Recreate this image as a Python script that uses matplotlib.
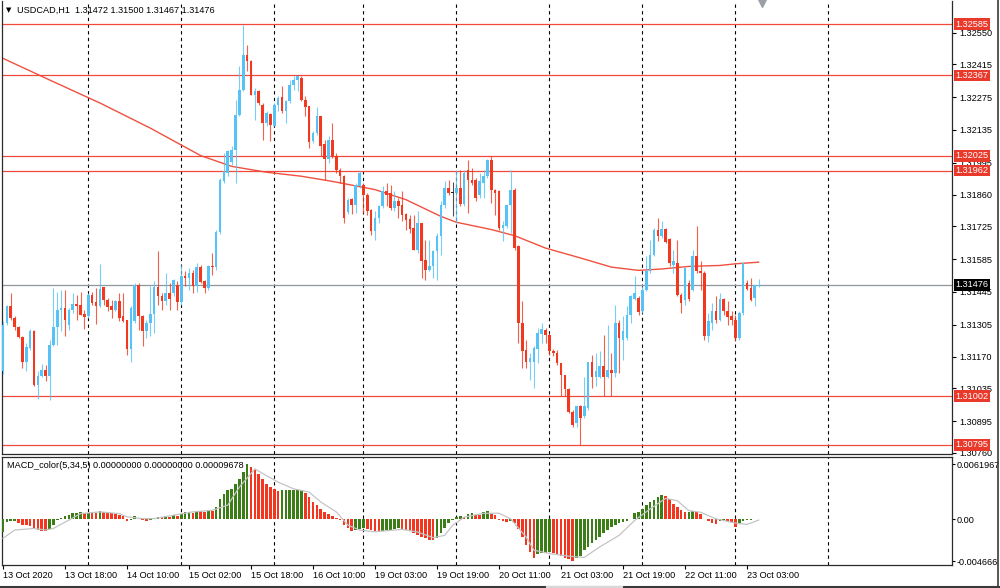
import matplotlib
matplotlib.use("Agg")
import matplotlib.pyplot as plt
from matplotlib.lines import Line2D

plt.rcParams['font.family'] = ['Liberation Sans', 'DejaVu Sans']
plt.rcParams['font.size'] = 6.6

# --- data (H1 bars, 13 Oct 02:00 .. 23 Oct 06:00) ---
opens = [
    1.31107, 1.31313, 1.31384, 1.31334, 1.31298, 1.31253, 1.31145, 1.31206, 1.31277, 1.31050,
    1.31088, 1.31114, 1.31088, 1.31220, 1.31298, 1.31369, 1.31376, 1.31306, 1.31369, 1.31395,
    1.31391, 1.31352, 1.31341, 1.31433, 1.31401, 1.31384, 1.31466, 1.31412, 1.31384, 1.31369,
    1.31405, 1.31341, 1.31324, 1.31202, 1.31320, 1.31476, 1.31341, 1.31280, 1.31315, 1.31352,
    1.31466, 1.31429, 1.31405, 1.31440, 1.31440, 1.31476, 1.31401, 1.31514, 1.31504, 1.31526,
    1.31469, 1.31551, 1.31490, 1.31462, 1.31554, 1.31551, 1.31700, 1.31916, 1.31952, 1.32000,
    1.32051, 1.32200, 1.32307, 1.32456, 1.32428, 1.32286, 1.32300, 1.32243, 1.32165, 1.32203,
    1.32154, 1.32243, 1.32276, 1.32215, 1.32257, 1.32328, 1.32349, 1.32356, 1.32264, 1.32236,
    1.32087, 1.32122, 1.32193, 1.32077, 1.32011, 1.32091, 1.32023, 1.31966, 1.31938, 1.31784,
    1.31841, 1.31817, 1.31895, 1.31902, 1.31860, 1.31796, 1.31704, 1.31760, 1.31810, 1.31874,
    1.31867, 1.31803, 1.31831, 1.31817, 1.31779, 1.31756, 1.31718, 1.31625, 1.31739, 1.31583,
    1.31537, 1.31557, 1.31618, 1.31682, 1.31817, 1.31888, 1.31867, 1.31867, 1.31888, 1.31820,
    1.31966, 1.31924, 1.31924, 1.31860, 1.31910, 1.31937, 1.32008, 1.31881, 1.31873, 1.31717,
    1.31727, 1.31817, 1.31881, 1.31642, 1.31313, 1.31199, 1.31149, 1.31149, 1.31202, 1.31267,
    1.31284, 1.31263, 1.31192, 1.31185, 1.31142, 1.31093, 1.31031, 1.30936, 1.30887, 1.30960,
    1.30915, 1.30950, 1.31149, 1.31085, 1.31085, 1.31128, 1.31085, 1.31114, 1.31100, 1.31313,
    1.31242, 1.31249, 1.31348, 1.31415, 1.31419, 1.31362, 1.31455, 1.31533, 1.31604, 1.31710,
    1.31682, 1.31713, 1.31670, 1.31561, 1.31568, 1.31433, 1.31412, 1.31483, 1.31455, 1.31600,
    1.31536, 1.31528, 1.31256, 1.31315, 1.31365, 1.31327, 1.31415, 1.31362, 1.31341, 1.31324,
    1.31249, 1.31355, 1.31483, 1.31462, 1.31419, 1.31472,
]
highs = [
    1.31320, 1.31390, 1.31440, 1.31341, 1.31302, 1.31259, 1.31227, 1.31288, 1.31284, 1.31107,
    1.31138, 1.31135, 1.31242, 1.31462, 1.31447, 1.31455, 1.31452, 1.31376, 1.31440, 1.31433,
    1.31447, 1.31369, 1.31440, 1.31447, 1.31462, 1.31565, 1.31466, 1.31419, 1.31412, 1.31412,
    1.31440, 1.31440, 1.31326, 1.31384, 1.31483, 1.31483, 1.31348, 1.31327, 1.31469, 1.31490,
    1.31618, 1.31440, 1.31526, 1.31483, 1.31500, 1.31490, 1.31561, 1.31533, 1.31547, 1.31540,
    1.31568, 1.31561, 1.31497, 1.31561, 1.31611, 1.31710, 1.31930, 1.32037, 1.32051, 1.32065,
    1.32264, 1.32406, 1.32581, 1.32498, 1.32435, 1.32314, 1.32307, 1.32250, 1.32214, 1.32207,
    1.32250, 1.32278, 1.32321, 1.32264, 1.32349, 1.32364, 1.32366, 1.32364, 1.32278, 1.32239,
    1.32129, 1.32233, 1.32196, 1.32094, 1.32108, 1.32165, 1.32037, 1.31973, 1.31945, 1.31846,
    1.31846, 1.31909, 1.31959, 1.31909, 1.31867, 1.31799, 1.31789, 1.31817, 1.31895, 1.31909,
    1.31902, 1.31874, 1.31846, 1.31874, 1.31782, 1.31775, 1.31775, 1.31789, 1.31739, 1.31668,
    1.31668, 1.31625, 1.31696, 1.31831, 1.31917, 1.31924, 1.31912, 1.31966, 1.31966, 1.31966,
    1.32009, 1.31973, 1.31931, 1.31952, 1.31966, 1.32011, 1.32023, 1.31883, 1.31881, 1.31746,
    1.31817, 1.31966, 1.31888, 1.31646, 1.31405, 1.31242, 1.31185, 1.31213, 1.31291, 1.31313,
    1.31291, 1.31270, 1.31202, 1.31199, 1.31142, 1.31093, 1.31036, 1.30943, 1.30965, 1.30965,
    1.31085, 1.31149, 1.31178, 1.31185, 1.31192, 1.31263, 1.31306, 1.31185, 1.31391, 1.31327,
    1.31341, 1.31384, 1.31433, 1.31511, 1.31426, 1.31469, 1.31597, 1.31668, 1.31717, 1.31760,
    1.31746, 1.31717, 1.31675, 1.31625, 1.31668, 1.31440, 1.31547, 1.31497, 1.31625, 1.31724,
    1.31575, 1.31533, 1.31355, 1.31398, 1.31426, 1.31440, 1.31419, 1.31405, 1.31362, 1.31348,
    1.31362, 1.31568, 1.31497, 1.31504, 1.31476, 1.31500,
]
lows = [
    1.31095, 1.31305, 1.31327, 1.31284, 1.31248, 1.31121, 1.31107, 1.31199, 1.31046, 1.30989,
    1.31085, 1.31064, 1.30983, 1.31213, 1.31220, 1.31277, 1.31259, 1.31284, 1.31355, 1.31327,
    1.31348, 1.31287, 1.31334, 1.31391, 1.31310, 1.31381, 1.31391, 1.31362, 1.31334, 1.31362,
    1.31320, 1.31318, 1.31178, 1.31149, 1.31315, 1.31284, 1.31213, 1.31249, 1.31256, 1.31270,
    1.31391, 1.31369, 1.31391, 1.31369, 1.31426, 1.31369, 1.31391, 1.31469, 1.31455, 1.31440,
    1.31447, 1.31483, 1.31440, 1.31455, 1.31518, 1.31540, 1.31690, 1.31909, 1.31938, 1.31985,
    1.31909, 1.32193, 1.32300, 1.32385, 1.32286, 1.32179, 1.32243, 1.32094, 1.32151, 1.32087,
    1.32151, 1.32215, 1.32207, 1.32165, 1.32250, 1.32307, 1.32300, 1.32257, 1.32193, 1.32058,
    1.32080, 1.32115, 1.32023, 1.31923, 1.31994, 1.32016, 1.31952, 1.31909, 1.31740, 1.31779,
    1.31779, 1.31782, 1.31888, 1.31782, 1.31775, 1.31689, 1.31668, 1.31739, 1.31803, 1.31810,
    1.31796, 1.31789, 1.31760, 1.31746, 1.31711, 1.31696, 1.31625, 1.31611, 1.31505, 1.31498,
    1.31533, 1.31505, 1.31498, 1.31604, 1.31803, 1.31860, 1.31767, 1.31739, 1.31810, 1.31810,
    1.31782, 1.31902, 1.31831, 1.31846, 1.31845, 1.31930, 1.31824, 1.31774, 1.31710, 1.31661,
    1.31717, 1.31696, 1.31625, 1.31227, 1.31121, 1.31121, 1.31071, 1.31036, 1.31142, 1.31227,
    1.31227, 1.31178, 1.31171, 1.31135, 1.31000, 1.31000, 1.30929, 1.30872, 1.30872, 1.30795,
    1.30908, 1.30943, 1.31036, 1.31043, 1.31078, 1.31000, 1.31078, 1.31000, 1.31085, 1.31100,
    1.31156, 1.31242, 1.31313, 1.31412, 1.31348, 1.31355, 1.31448, 1.31526, 1.31597, 1.31661,
    1.31675, 1.31653, 1.31554, 1.31528, 1.31426, 1.31355, 1.31391, 1.31405, 1.31448, 1.31526,
    1.31455, 1.31242, 1.31230, 1.31284, 1.31313, 1.31320, 1.31348, 1.31306, 1.31306, 1.31235,
    1.31242, 1.31348, 1.31455, 1.31405, 1.31384, 1.31467,
]
closes = [
    1.31306, 1.31384, 1.31334, 1.31298, 1.31253, 1.31145, 1.31209, 1.31277, 1.31050, 1.31088,
    1.31114, 1.31088, 1.31220, 1.31298, 1.31369, 1.31376, 1.31327, 1.31369, 1.31395, 1.31384,
    1.31348, 1.31338, 1.31433, 1.31398, 1.31384, 1.31457, 1.31409, 1.31381, 1.31369, 1.31405,
    1.31334, 1.31320, 1.31202, 1.31376, 1.31476, 1.31341, 1.31280, 1.31315, 1.31352, 1.31466,
    1.31429, 1.31405, 1.31440, 1.31415, 1.31494, 1.31401, 1.31514, 1.31504, 1.31526, 1.31469,
    1.31551, 1.31486, 1.31462, 1.31554, 1.31551, 1.31700, 1.31923, 1.31959, 1.32044, 1.32051,
    1.32200, 1.32307, 1.32456, 1.32428, 1.32286, 1.32300, 1.32250, 1.32165, 1.32207, 1.32158,
    1.32243, 1.32271, 1.32215, 1.32257, 1.32328, 1.32349, 1.32364, 1.32264, 1.32233, 1.32082,
    1.32122, 1.32193, 1.32065, 1.32011, 1.32094, 1.32023, 1.31966, 1.31938, 1.31760, 1.31838,
    1.31817, 1.31902, 1.31952, 1.31860, 1.31789, 1.31704, 1.31760, 1.31810, 1.31874, 1.31860,
    1.31803, 1.31831, 1.31813, 1.31775, 1.31753, 1.31713, 1.31625, 1.31739, 1.31576, 1.31537,
    1.31557, 1.31618, 1.31682, 1.31817, 1.31888, 1.31867, 1.31867, 1.31888, 1.31820, 1.31952,
    1.31924, 1.31910, 1.31846, 1.31916, 1.31937, 1.32008, 1.31881, 1.31866, 1.31717, 1.31731,
    1.31817, 1.31881, 1.31632, 1.31313, 1.31192, 1.31149, 1.31164, 1.31206, 1.31270, 1.31287,
    1.31263, 1.31192, 1.31185, 1.31142, 1.31093, 1.31031, 1.30936, 1.30880, 1.30958, 1.30908,
    1.30958, 1.31149, 1.31085, 1.31107, 1.31128, 1.31085, 1.31114, 1.31100, 1.31313, 1.31249,
    1.31280, 1.31348, 1.31426, 1.31440, 1.31358, 1.31455, 1.31533, 1.31604, 1.31710, 1.31682,
    1.31713, 1.31656, 1.31568, 1.31575, 1.31433, 1.31398, 1.31547, 1.31416, 1.31597, 1.31533,
    1.31528, 1.31256, 1.31320, 1.31365, 1.31327, 1.31415, 1.31365, 1.31338, 1.31324, 1.31249,
    1.31355, 1.31568, 1.31457, 1.31412, 1.31476, 1.31476,
]

# moving average (bar index, price)
ma_bars = [0, 12, 25, 38, 51, 59, 68, 77, 85, 96, 104, 113, 117, 126, 132, 140, 149, 157, 164, 170, 177, 185, 189, 195]
ma_vals = [1.32440, 1.32348, 1.32250, 1.32143, 1.32026, 1.31980, 1.31955, 1.31938, 1.31916, 1.31881,
           1.31838, 1.31767, 1.31742, 1.31711, 1.31685, 1.31632, 1.31590, 1.31551, 1.31537, 1.31543,
           1.31554, 1.31558, 1.31565, 1.31572]

# MACD_color(5,34,5) histogram, one value per bar
macd_hist = [
    -0.00137, -0.00030, -0.00022, -0.00020, -0.00037, -0.00063, -0.00065, -0.00070, -0.00100, -0.00118,
    -0.00125, -0.00130, -0.00110, -0.00060, -0.00010, 0.00020, 0.00040, 0.00055, 0.00070, 0.00075,
    0.00080, 0.00072, 0.00078, 0.00072, 0.00070, 0.00090, 0.00085, 0.00075, 0.00068, 0.00065,
    0.00050, 0.00035, -0.00020, -0.00010, 0.00035, 0.00010, -0.00010, -0.00012, -0.00005, 0.00020,
    0.00030, 0.00028, 0.00035, 0.00032, 0.00045, 0.00040, 0.00065, 0.00080, 0.00085, 0.00078,
    0.00095, 0.00092, 0.00085, 0.00100, 0.00098, 0.00140, 0.00232, 0.00290, 0.00325, 0.00345,
    0.00400, 0.00454, 0.00530, 0.00620, 0.00590, 0.00565, 0.00510, 0.00455, 0.00400, 0.00360,
    0.00340, 0.00322, 0.00324, 0.00325, 0.00326, 0.00327, 0.00328, 0.00330, 0.00300, 0.00250,
    0.00195, 0.00160, 0.00120, 0.00085, 0.00060, 0.00040, 0.00020, -0.00005, -0.00060, -0.00100,
    -0.00130, -0.00120, -0.00110, -0.00100, -0.00110, -0.00120, -0.00130, -0.00135, -0.00128, -0.00120,
    -0.00115, -0.00110, -0.00100, -0.00103, -0.00115, -0.00130, -0.00150, -0.00170, -0.00190, -0.00210,
    -0.00225, -0.00232, -0.00210, -0.00155, -0.00100, -0.00044, -0.00007, 0.00030, 0.00037, 0.00030,
    0.00066, 0.00074, 0.00048, 0.00046, 0.00085, 0.00096, 0.00066, 0.00048, -0.00007, -0.00020,
    -0.00026, -0.00020, -0.00040, -0.00110, -0.00200, -0.00290, -0.00360, -0.00430, -0.00380, -0.00375,
    -0.00370, -0.00365, -0.00375, -0.00390, -0.00410, -0.00425, -0.00445, -0.00467, -0.00432, -0.00413,
    -0.00340, -0.00303, -0.00266, -0.00229, -0.00192, -0.00155, -0.00118, -0.00081, -0.00063, -0.00040,
    -0.00025, -0.00012, 0.00010, 0.00074, 0.00085, 0.00122, 0.00159, 0.00196, 0.00221, 0.00251,
    0.00269, 0.00262, 0.00232, 0.00177, 0.00140, 0.00103, 0.00085, 0.00087, 0.00090, 0.00088,
    0.00066, 0.00010, -0.00015, -0.00037, -0.00052, -0.00015, -0.00010, -0.00018, -0.00026, -0.00081,
    -0.00052, -0.00015, -0.00007, -0.00003, 0.00005, 0.00010,
]
signal_bars = [0, 3, 8, 11, 13, 17, 20, 25, 30, 32, 36, 39, 44, 49, 54, 58, 61, 65, 68, 71, 75, 79,
               82, 86, 89, 92, 96, 103, 107, 111, 114, 116, 119, 124, 128, 131, 135, 137, 141, 146,
               150, 154, 159, 163, 167, 171, 174, 177, 180, 184, 189, 192, 195]
signal_vals = [-0.00210, -0.00118, -0.00100, -0.00118, -0.00100, -0.00007, 0.00066, 0.00085, 0.00066,
               0.00030, 0.00010, 0.00010, 0.00048, 0.00085, 0.00103, 0.00160, 0.00362, 0.00565, 0.00490,
               0.00417, 0.00343, 0.00306, 0.00196, 0.00085, -0.00063, -0.00118, -0.00137, -0.00110,
               -0.00140, -0.00203, -0.00177, -0.00066, 0.00026, 0.00070, 0.00070, 0.00007, -0.00196,
               -0.00343, -0.00380, -0.00410, -0.00424, -0.00306, -0.00177, -0.00011, 0.00118, 0.00236,
               0.00210, 0.00099, 0.00081, 0.00007, -0.00040, -0.00055, -0.00007]

levels = [1.32585, 1.32367, 1.32025, 1.31962, 1.31002, 1.30795]
last_price = 1.31476
price_ticks = [1.32550, 1.32415, 1.32275, 1.32135, 1.31995, 1.31860, 1.31725,
               1.31585, 1.31445, 1.31305, 1.31170, 1.31035, 1.30895, 1.30760]
macd_ticks = [0.0061967, 0.0, -0.004666]
macd_tick_labels = ["0.0061967", "0.00", "-0.004666"]
day_start_bars = [22, 46, 70, 93, 117, 141, 165, 189, 213]
time_tick_bars = [0, 16, 32, 48, 64, 80, 96, 112, 128, 144, 160, 176, 192]
time_tick_labels = ["13 Oct 2020", "13 Oct 18:00", "14 Oct 10:00", "15 Oct 02:00", "15 Oct 18:00",
                    "16 Oct 10:00", "19 Oct 03:00", "19 Oct 19:00", "20 Oct 11:00", "21 Oct 03:00",
                    "21 Oct 19:00", "22 Oct 11:00", "23 Oct 03:00"]

BULL = "#56c2f6"
BEAR = "#f2381f"
LEVEL = "#f04a3c"
MA_COLOR = "#f0503f"
HIST_UP = "#3b7d17"
HIST_DN = "#f2361f"
SIGNAL = "#c4c4c4"

W, H = 1000, 588
fig = plt.figure(figsize=(10, 5.88), dpi=100)
fig.patch.set_facecolor("white")


def px_box(left, top, right, bottom):
    return [left / W, 1 - bottom / H, (right - left) / W, (bottom - top) / H]


ax = fig.add_axes(px_box(2, 1, 952, 454))
ax2 = fig.add_axes(px_box(2, 457, 952, 565))

# bar i sits at pixel 3 + 3.875*i
xlim = ((2 - 3) / 3.875, (952 - 3) / 3.875)
for a in (ax, ax2):
    a.set_xlim(*xlim)
    for sp in a.spines.values():
        sp.set_color("#2b2b2b")
        sp.set_linewidth(0.9)
ax.spines["top"].set_visible(False)

ax.set_ylim(1.307551, 1.326842)
ax2.set_ylim(-0.005084, 0.006983)

# period separators
for d in day_start_bars:
    for a in (ax, ax2):
        a.axvline(d, color="black", lw=0.8, ls=(0, (3, 3)), zorder=1)

# candles
idx = list(range(len(opens)))
colors = []
for o, c in zip(opens, closes):
    if c > o:
        colors.append(BULL)
    elif c < o:
        colors.append(BEAR)
    else:
        colors.append("#222222")
ax.vlines(idx, lows, highs, colors=colors, lw=0.8, alpha=0.8, zorder=3)
bottoms = [min(o, c) for o, c in zip(opens, closes)]
heights = [max(abs(c - o), 0.000025) for o, c in zip(opens, closes)]
ax.bar(idx, heights, bottom=bottoms, width=0.7, color=colors, linewidth=0, zorder=4)

# moving average
ax.plot(ma_bars, ma_vals, color=MA_COLOR, lw=1.0, zorder=2)

# levels
for lv in levels:
    ax.axhline(lv, color=LEVEL, lw=0.9, zorder=2)
ax.axhline(last_price, color="#8f969c", lw=0.9, zorder=2)

# right price axis
ax.yaxis.tick_right()
ax.set_yticks(price_ticks)
ax.set_yticklabels([f"{t:.5f}" for t in price_ticks])
ax.tick_params(axis="y", length=3, pad=2, labelsize=6.6, colors="black")
ax.set_xticks([])

for lv in levels:
    ax.text(1.0035, lv, f"{lv:.5f}", transform=ax.get_yaxis_transform(), ha="left", va="center",
            color="white", fontsize=6.6, clip_on=False, zorder=6,
            bbox=dict(boxstyle="square,pad=0.15", fc="#e8392a", ec="none"))
ax.text(1.0035, last_price, f"{last_price:.5f}", transform=ax.get_yaxis_transform(), ha="left",
        va="center", color="white", fontsize=6.6, clip_on=False, zorder=6,
        bbox=dict(boxstyle="square,pad=0.15", fc="black", ec="none"))

# MACD panel
hist_colors = [HIST_UP]
for i in range(1, len(macd_hist)):
    hist_colors.append(HIST_UP if macd_hist[i] >= macd_hist[i - 1] else HIST_DN)
ax2.bar(idx, macd_hist, width=0.7, color=hist_colors, linewidth=0, zorder=3)
ax2.plot(signal_bars, signal_vals, color=SIGNAL, lw=0.9, zorder=4)

ax2.yaxis.tick_right()
ax2.set_yticks(macd_ticks)
ax2.set_yticklabels(macd_tick_labels)
ax2.tick_params(axis="y", length=2, pad=1.5, labelsize=6.6, colors="black")
ax2.set_xticks(time_tick_bars)
ax2.set_xticklabels(time_tick_labels)
for lbl in ax2.get_xticklabels():
    lbl.set_horizontalalignment("left")
ax2.tick_params(axis="x", length=3, pad=1.5, labelsize=6.6, colors="black")

# headers
fig.text(6 / W, 1 - 10 / H, "\u25bc", fontsize=5, family="DejaVu Sans", va="center", ha="left")
fig.text(17 / W, 1 - 10 / H, "USDCAD,H1  1.31472 1.31500 1.31467 1.31476", fontsize=6.6,
         va="center", ha="left")
fig.text(7 / W, 1 - 466 / H, "MACD_color(5,34,5) 0.00000000 0.00000000 0.00009678", fontsize=6.6,
         va="center", ha="left")

# chart-shift marker and window frame
fig.add_artist(Line2D([762 / W], [1 - 3 / H], marker="v", markersize=6, color="#9aa0a6", lw=0))
fig.add_artist(Line2D([998 / W, 998 / W], [0, 1], color="#3a3a3a", lw=1.2))
fig.add_artist(Line2D([0, 1], [1 - 586.5 / H, 1 - 586.5 / H], color="#3a3a3a", lw=1.5))
fig.add_artist(Line2D([547 / W, 622 / W], [1 - 586.5 / H, 1 - 586.5 / H], color="#d8d8d8", lw=1.5))

fig.savefig("out.png", dpi=100, facecolor="white")
